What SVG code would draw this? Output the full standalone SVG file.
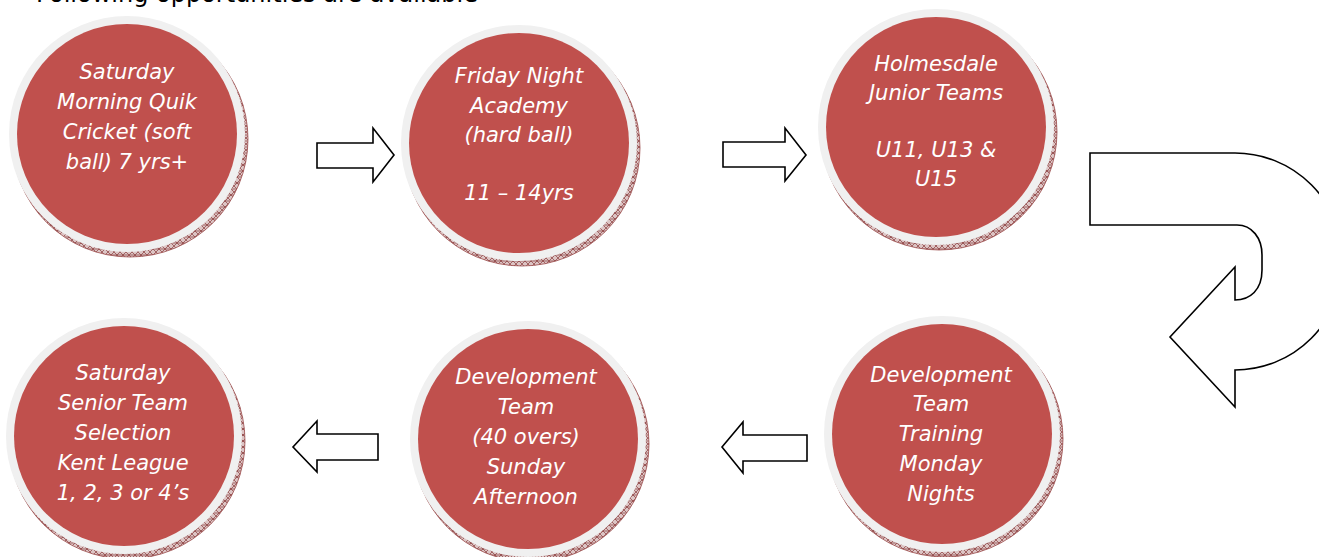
<svg xmlns="http://www.w3.org/2000/svg" width="1319" height="557" viewBox="0 0 1319 557">
<defs>
<pattern id="hatch" width="6" height="6" patternUnits="userSpaceOnUse">
<rect width="6" height="6" fill="#dcc4c4"/>
<path d="M0,6 L6,0 M0,0 L6,6 M0,3 H6" stroke="#8a3b3b" stroke-width="0.7"/>
</pattern>
</defs>
<style>
.shadow{fill:url(#hatch);stroke:#9a4a4a;stroke-width:0.8}
.ring{fill:#f0f0f0}
.disc{fill:#c0504d}
.lbl{font-family:"DejaVu Sans","Verdana",sans-serif;font-style:italic;font-size:21px;fill:#ffffff;text-anchor:middle}
.arrow{fill:#ffffff;stroke:#000000;stroke-width:1.6;stroke-linejoin:miter}
.title{font-family:"DejaVu Sans","Verdana",sans-serif;font-size:24px;fill:#000000}
</style>
<rect width="1319" height="557" fill="#ffffff"/>
<text class="title" x="36" y="1.5">Following opportunities are available</text>

<g id="connectors">
<path class="arrow" d="M317,143 H373 V128 L394,155 L373,182 V168 H317 Z"/>
<path class="arrow" d="M723,142 H785 V128 L806,155 L785,181 V167 H723 Z"/>
<path class="arrow" d="M1090,153 H1235 A108,108.5 0 0 1 1235,370 V407 L1170,337 L1235,267 V300 C1250,300 1262,290 1262,270 V255 C1262,238 1252,225 1237,225 H1090 Z"/>
<path class="arrow" d="M807,435 H743 V422 L722,447 L743,473 V461 H807 Z"/>
<path class="arrow" d="M378,434 H317 V421 L293,447 L317,472 V460 H378 Z"/>
</g>

<g id="node1">
<circle class="shadow" cx="130" cy="139" r="118"/>
<circle class="ring" cx="127" cy="134" r="118"/>
<circle class="disc" cx="127" cy="134" r="110"/>
<text class="lbl"><tspan x="127" y="79">Saturday</tspan><tspan x="127" y="109">Morning Quik</tspan><tspan x="127" y="139">Cricket (soft</tspan><tspan x="127" y="169">ball) 7 yrs+</tspan></text>
</g>

<g id="node2">
<circle class="shadow" cx="522" cy="148" r="118"/>
<circle class="ring" cx="519" cy="143" r="118"/>
<circle class="disc" cx="519" cy="143" r="110"/>
<text class="lbl"><tspan x="519" y="83">Friday Night</tspan><tspan x="519" y="113">Academy</tspan><tspan x="519" y="142">(hard ball)</tspan><tspan x="519" y="200">11 – 14yrs</tspan></text>
</g>

<g id="node3">
<circle class="shadow" cx="939" cy="132" r="118"/>
<circle class="ring" cx="936" cy="127" r="118"/>
<circle class="disc" cx="936" cy="127" r="110"/>
<text class="lbl"><tspan x="936" y="71">Holmesdale</tspan><tspan x="936" y="100">Junior Teams</tspan><tspan x="936" y="157">U11, U13 &amp;</tspan><tspan x="936" y="186">U15</tspan></text>
</g>

<g id="node4">
<circle class="shadow" cx="945" cy="439" r="118"/>
<circle class="ring" cx="942" cy="434" r="118"/>
<circle class="disc" cx="942" cy="434" r="110"/>
<text class="lbl"><tspan x="941" y="382">Development</tspan><tspan x="941" y="411">Team</tspan><tspan x="941" y="441">Training</tspan><tspan x="941" y="471">Monday</tspan><tspan x="941" y="501">Nights</tspan></text>
</g>

<g id="node5">
<circle class="shadow" cx="531" cy="444" r="118"/>
<circle class="ring" cx="528" cy="439" r="118"/>
<circle class="disc" cx="528" cy="439" r="110"/>
<text class="lbl"><tspan x="526" y="384">Development</tspan><tspan x="526" y="414">Team</tspan><tspan x="526" y="444">(40 overs)</tspan><tspan x="526" y="474">Sunday</tspan><tspan x="526" y="504">Afternoon</tspan></text>
</g>

<g id="node6">
<circle class="shadow" cx="127" cy="441" r="118"/>
<circle class="ring" cx="124" cy="436" r="118"/>
<circle class="disc" cx="124" cy="436" r="110"/>
<text class="lbl"><tspan x="123" y="380">Saturday</tspan><tspan x="123" y="410">Senior Team</tspan><tspan x="123" y="440">Selection</tspan><tspan x="123" y="470">Kent League</tspan><tspan x="123" y="500">1, 2, 3 or 4’s</tspan></text>
</g>
</svg>
